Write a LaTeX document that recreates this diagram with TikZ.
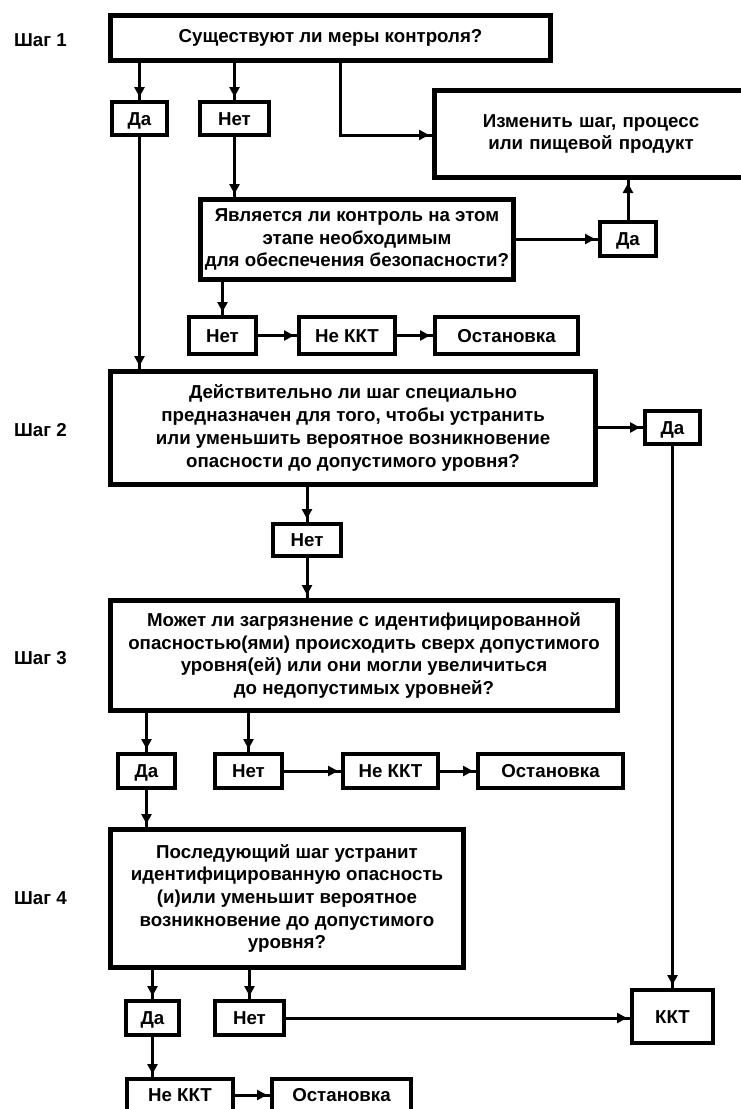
\documentclass[tikz,border=0pt]{standalone}
\usepackage{fontspec}
\setmainfont{Liberation Sans}
\usetikzlibrary{arrows.meta,decorations.markings}
\tikzset{
  txt/.style={font=\bfseries\fontsize{18.7}{22.7}\selectfont, align=center, text=black},
  bigbox/.style={txt, draw=black, line width=5pt, inner sep=0pt, fill=white},
  smallbox/.style={txt, draw=black, line width=4pt, inner sep=0pt, fill=white, text height=13.5pt, text depth=0pt},
  steplbl/.style={txt, anchor=west, inner sep=0pt},
  conn/.style={line width=3pt, draw=black,
    decoration={markings, mark=at position -3pt with {\arrow{Triangle[length=10pt,width=10pt]}}},
    postaction={decorate}}
}
\begin{document}
\begin{tikzpicture}[x=1pt,y=-1pt]
\useasboundingbox (0,0) rectangle (741,1109);
\fill[white] (0,0) rectangle (741,1109);

% step labels
\node[steplbl] (s1) at (14,40) {Шаг 1};
\node[steplbl] (s2) at (14,430) {Шаг 2};
\node[steplbl] (s3) at (14,658) {Шаг 3};
\node[steplbl] (s4) at (14,898) {Шаг 4};

% step 1
\node[bigbox, minimum width=440pt, minimum height=45pt] (q1) at (330.5,38) {Существуют ли меры контроля?};
\node[smallbox, minimum width=55pt, minimum height=33pt] (da1) at (139.5,118.5) {Да};
\node[smallbox, minimum width=69pt, minimum height=33pt] (net1) at (234.5,118.5) {Нет};
\node[bigbox, minimum width=313pt, minimum height=87pt, text width=300pt] (change) at (591,134) {Изменить шаг, процесс\\или пищевой продукт};
\node[bigbox, minimum width=313pt, minimum height=80pt] (q1b) at (357,239.5) {Является ли контроль на этом\\этапе необходимым\\для обеспечения безопасности?};
\node[smallbox, minimum width=56pt, minimum height=34pt] (da2) at (628,239) {Да};
\node[smallbox, minimum width=67pt, minimum height=37pt] (net2) at (222.5,335.5) {Нет};
\node[smallbox, minimum width=96pt, minimum height=37pt] (nk2) at (347,335.5) {Не ККТ};
\node[smallbox, minimum width=143pt, minimum height=37pt] (stop2) at (506.5,335.5) {Остановка};

% step 2
\node[bigbox, minimum width=485pt, minimum height=113pt] (q2) at (353,428) {Действительно ли шаг специально\\предназначен для того, чтобы устранить\\или уменьшить вероятное возникновение\\опасности до допустимого уровня?};
\node[smallbox, minimum width=55pt, minimum height=33pt] (da3) at (672.5,427.5) {Да};
\node[smallbox, minimum width=68pt, minimum height=32pt] (net3) at (307,540) {Нет};

% step 3
\node[bigbox, minimum width=507pt, minimum height=110pt] (q3) at (364,655.5) {Может ли загрязнение с идентифицированной\\опасностью(ями) происходить сверх допустимого\\уровня(ей) или они могли увеличиться\\до недопустимых уровней?};
\node[smallbox, minimum width=57pt, minimum height=34pt] (da4) at (146.5,771) {Да};
\node[smallbox, minimum width=67pt, minimum height=34pt] (net4) at (248.5,771) {Нет};
\node[smallbox, minimum width=95pt, minimum height=34pt] (nk4) at (390.5,771) {Не ККТ};
\node[smallbox, minimum width=145pt, minimum height=34pt] (stop4) at (550.5,771) {Остановка};

% step 4
\node[bigbox, minimum width=353pt, minimum height=138pt] (q4) at (287,898.5) {Последующий шаг устранит\\идентифицированную опасность\\(и)или уменьшит вероятное\\возникновение до допустимого\\уровня?};
\node[smallbox, minimum width=53pt, minimum height=34pt] (da5) at (152.5,1018) {Да};
\node[smallbox, minimum width=69pt, minimum height=34pt] (net5) at (249.5,1018) {Нет};
\node[smallbox, minimum width=81pt, minimum height=53pt] (kkt) at (672.5,1016.5) {ККТ};
\node[smallbox, minimum width=106pt, minimum height=32pt] (nk5) at (180,1095) {Не ККТ};
\node[smallbox, minimum width=139pt, minimum height=32pt] (stop5) at (341.5,1095) {Остановка};

% helper coordinate
\coordinate (k1) at (340,135);

% connectors step 1
\draw[conn] (da1 |- q1.south) -- (da1.north);
\draw[conn] (net1 |- q1.south) -- (net1.north);
\draw[conn] (q1.south -| k1) -- (k1) -- (change.west |- k1);
\draw[conn] (net1.south) -- (net1 |- q1b.north);
\draw[conn] (da1.south) -- (da1 |- q2.north);
\draw[conn] (net2 |- q1b.south) -- (net2.north);
\draw[conn] (q1b.east |- da2) -- (da2.west);
\draw[conn] (da2.north) -- (da2 |- change.south);
\draw[conn] (net2.east) -- (nk2.west);
\draw[conn] (nk2.east) -- (stop2.west);

% connectors step 2
\draw[conn] (q2.east |- da3) -- (da3.west);
\draw[conn] (da3.south) -- (da3 |- kkt.north);
\draw[conn] (net3 |- q2.south) -- (net3.north);
\draw[conn] (net3.south) -- (net3 |- q3.north);

% connectors step 3
\draw[conn] (da4 |- q3.south) -- (da4.north);
\draw[conn] (net4 |- q3.south) -- (net4.north);
\draw[conn] (net4.east) -- (nk4.west);
\draw[conn] (nk4.east) -- (stop4.west);
\draw[conn] (da4.south) -- (da4 |- q4.north);

% connectors step 4
\draw[conn] (da5 |- q4.south) -- (da5.north);
\draw[conn] (net5 |- q4.south) -- (net5.north);
\draw[conn] (net5.east) -- (net5 -| kkt.west);
\draw[conn] (da5.south) -- (da5 |- nk5.north);
\draw[conn] (nk5.east) -- (stop5.west);
\end{tikzpicture}
\end{document}
